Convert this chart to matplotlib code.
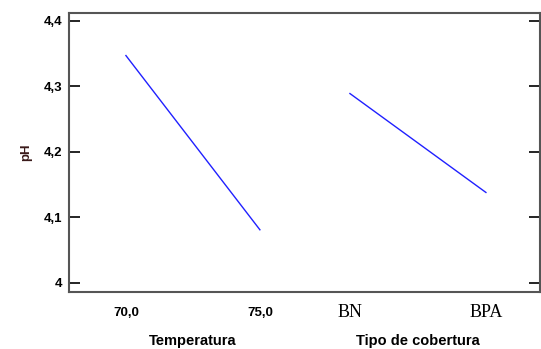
import matplotlib
matplotlib.use("Agg")
import matplotlib.pyplot as plt

# data
temp_labels = ["70,0", "75,0"]
temp_ph = [4.347, 4.081]
cover_labels = ["BN", "BPA"]
cover_ph = [4.289, 4.138]
y_ticks = [4.0, 4.1, 4.2, 4.3, 4.4]
y_ticklabels = ["4", "4,1", "4,2", "4,3", "4,4"]

# horizontal slot for each level
temp_pos = [0, 1]
cover_pos = [1.672, 2.687]

fig = plt.figure(figsize=(5.41, 3.49), dpi=100)
ax = fig.add_axes([0.1275, 0.1633, 0.8705, 0.7995])

ax.plot(temp_pos, temp_ph, color="#2020ff", lw=1.0)
ax.plot(cover_pos, cover_ph, color="#2020ff", lw=1.0)

ax.set_xlim(-0.425, 3.09)
ax.set_ylim(3.986, 4.412)

ax.set_yticks(y_ticks)
ax.set_yticklabels(y_ticklabels, fontfamily="Liberation Sans", fontweight="bold",
                   fontsize=9.5)
ax.tick_params(axis="y", direction="in", length=8, width=1.2, color="black",
               right=True, pad=5)
ax.set_xticks([])

for p, lab in zip(temp_pos, temp_labels):
    ax.text(p, -0.075, lab, transform=ax.get_xaxis_transform(), ha="center",
            va="center", fontfamily="Liberation Sans", fontweight="bold", fontsize=9.5)
for p, lab in zip(cover_pos, cover_labels):
    ax.text(p, -0.075, lab, transform=ax.get_xaxis_transform(), ha="center",
            va="center", fontfamily="Liberation Serif", fontsize=13)

ax.text(sum(temp_pos) / 2, -0.175, "Temperatura", transform=ax.get_xaxis_transform(),
        ha="center", va="center", fontfamily="Liberation Sans", fontweight="bold",
        fontsize=10.5)
ax.text(sum(cover_pos) / 2, -0.175, "Tipo de cobertura", transform=ax.get_xaxis_transform(),
        ha="center", va="center", fontfamily="Liberation Sans", fontweight="bold",
        fontsize=10.5)

ax.set_ylabel("pH", fontfamily="Liberation Sans", fontweight="bold", fontsize=9.5,
              color="#3a1a1a", labelpad=8)

for s in ax.spines.values():
    s.set_color("#555555")
    s.set_linewidth(1.5)

fig.savefig("out.png", dpi=100)
